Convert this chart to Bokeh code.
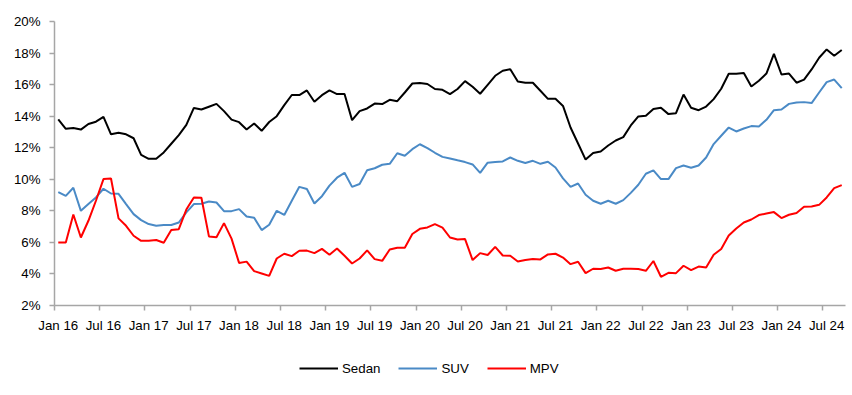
from bokeh.plotting import figure
from bokeh.layouts import column
from bokeh.models import (Range1d, FixedTicker, PrintfTickFormatter, Legend, LegendItem)
from bokeh.embed import file_html
from bokeh.resources import INLINE

# ---- data (share of sales, %) monthly Jan 16 .. Sep 24 ----
month_names = ["Jan", "Feb", "Mar", "Apr", "May", "Jun",
               "Jul", "Aug", "Sep", "Oct", "Nov", "Dec"]
months = [f"{month_names[m % 12]} {16 + m // 12}" for m in range(105)]

sedan = [13.8, 13.2, 13.25, 13.15, 13.5, 13.65, 13.95, 12.85, 12.95, 12.85,
         12.6, 11.55, 11.3, 11.3, 11.7, 12.25, 12.8, 13.45, 14.52, 14.42,
         14.6, 14.78, 14.32, 13.78, 13.62, 13.16, 13.53, 13.07, 13.63, 14.0,
         14.7, 15.34, 15.34, 15.63, 14.91, 15.33, 15.63, 15.4, 15.4, 13.75,
         14.32, 14.49, 14.8, 14.77, 15.04, 14.95, 15.5, 16.07, 16.1, 16.04,
         15.72, 15.67, 15.4, 15.72, 16.22, 15.86, 15.42, 15.99, 16.56, 16.88,
         16.98, 16.2, 16.12, 16.12, 15.61, 15.1, 15.1, 14.65, 13.28, 12.27,
         11.25, 11.66, 11.76, 12.14, 12.46, 12.67, 13.41, 13.98, 14.02, 14.45,
         14.53, 14.13, 14.19, 15.37, 14.53, 14.38, 14.61, 15.08, 15.74, 16.69,
         16.69, 16.73, 15.88, 16.24, 16.7, 17.95, 16.64, 16.7, 16.12, 16.32,
         16.96, 17.7, 18.23, 17.83, 18.19]

suv = [9.19, 8.95, 9.46, 8.0, 8.43, 8.85, 9.4, 9.1, 9.08, 8.43,
       7.79, 7.41, 7.16, 7.05, 7.1, 7.1, 7.26, 7.9, 8.43, 8.45,
       8.59, 8.53, 7.98, 7.98, 8.11, 7.64, 7.56, 6.78, 7.12, 8.0,
       7.74, 8.64, 9.52, 9.38, 8.47, 8.93, 9.6, 10.1, 10.41, 9.52,
       9.7, 10.57, 10.7, 10.92, 10.98, 11.65, 11.49, 11.91, 12.22, 11.98,
       11.68, 11.42, 11.32, 11.2, 11.09, 10.94, 10.41, 11.05, 11.09, 11.13,
       11.38, 11.17, 11.03, 11.17, 10.98, 11.11, 10.75, 10.06, 9.52, 9.73,
       9.02, 8.64, 8.45, 8.64, 8.45, 8.68, 9.14, 9.65, 10.35, 10.56,
       10.01, 10.01, 10.71, 10.87, 10.73, 10.87, 11.38, 12.23, 12.76, 13.28,
       13.03, 13.22, 13.37, 13.35, 13.77, 14.38, 14.42, 14.78, 14.87, 14.89,
       14.83, 15.5, 16.16, 16.32, 15.78]

mpv = [6.0, 6.0, 7.77, 6.31, 7.37, 8.64, 10.01, 10.05, 7.52, 7.05,
       6.42, 6.1, 6.1, 6.15, 5.98, 6.78, 6.84, 8.08, 8.85, 8.83,
       6.38, 6.33, 7.22, 6.24, 4.7, 4.78, 4.18, 4.03, 3.88, 4.98,
       5.28, 5.13, 5.47, 5.48, 5.32, 5.59, 5.22, 5.61, 5.15, 4.66,
       4.98, 5.49, 4.94, 4.83, 5.55, 5.66, 5.66, 6.53, 6.86, 6.95,
       7.16, 6.94, 6.31, 6.18, 6.21, 4.88, 5.32, 5.2, 5.72, 5.17,
       5.15, 4.79, 4.88, 4.94, 4.92, 5.24, 5.28, 5.04, 4.62, 4.77,
       4.05, 4.33, 4.31, 4.41, 4.2, 4.33, 4.33, 4.31, 4.2, 4.82,
       3.82, 4.07, 4.05, 4.52, 4.24, 4.47, 4.41, 5.22, 5.58, 6.44,
       6.88, 7.26, 7.45, 7.73, 7.83, 7.92, 7.54, 7.75, 7.86, 8.26,
       8.28, 8.38, 8.85, 9.44, 9.63]

series_names = ["Sedan", "SUV", "MPV"]
y_ticks = [2, 4, 6, 8, 10, 12, 14, 16, 18, 20]
label_every = 6
tick_labels = {i: months[i] for i in range(0, len(months), label_every)}

FONT = "Liberation Sans"
FS = "13.3px"
AXIS_GRAY = "#a6a6a6"
COLORS = ["#000000", "#4a8ac6", "#ff0000"]

x = list(range(len(months)))
all_series = [sedan, suv, mpv]

p = figure(frame_width=791, frame_height=284, output_backend="svg",
           toolbar_location=None,
           x_range=Range1d(-0.5, len(months) - 0.5), y_range=Range1d(2, 20),
           min_border_left=54, min_border_right=5, min_border_top=21,
           min_border_bottom=35)
p.outline_line_color = None
p.xgrid.grid_line_color = None
p.ygrid.grid_line_color = None
p.background_fill_color = "white"
p.border_fill_color = "white"

for vals, col in zip(all_series, COLORS):
    p.line(x, vals, line_color=col, line_width=2)

# y axis
ya = p.yaxis[0]
ya.ticker = FixedTicker(ticks=y_ticks, minor_ticks=[])
ya.formatter = PrintfTickFormatter(format="%d%%")
ya.axis_line_color = AXIS_GRAY
ya.axis_line_width = 1.5
ya.major_tick_line_color = AXIS_GRAY
ya.major_tick_line_width = 1.5
ya.major_tick_out = 5
ya.major_tick_in = 0
ya.major_label_standoff = 9
ya.major_label_text_font = FONT
ya.major_label_text_font_size = FS
ya.major_label_text_color = "#000000"

# x axis: labels centred on months, tick marks at month boundaries
xa = p.xaxis[0]
xa.ticker = FixedTicker(ticks=list(tick_labels.keys()),
                        minor_ticks=[k - 0.5 for k in tick_labels.keys()])
xa.major_label_overrides = tick_labels
xa.axis_line_color = AXIS_GRAY
xa.axis_line_width = 1.5
xa.major_tick_line_color = None
xa.major_tick_out = 5
xa.major_tick_in = 0
xa.minor_tick_line_color = AXIS_GRAY
xa.minor_tick_line_width = 1.5
xa.minor_tick_out = 5
xa.minor_tick_in = 0
xa.major_label_standoff = 7
xa.major_label_text_font = FONT
xa.major_label_text_font_size = FS
xa.major_label_text_color = "#000000"

# legend strip below the chart (same series, drawn outside its visible range)
lg = figure(width=850, height=50, output_backend="svg", toolbar_location=None,
            x_range=Range1d(-0.5, len(months) - 0.5), y_range=Range1d(100, 101),
            x_axis_type=None, y_axis_type=None,
            min_border_left=0, min_border_right=0, min_border_top=0,
            min_border_bottom=0)
lg.outline_line_color = None
lg.xgrid.grid_line_color = None
lg.ygrid.grid_line_color = None
lg.border_fill_color = "white"
lg.background_fill_color = "white"

items = []
for name, vals, col in zip(series_names, all_series, COLORS):
    r = lg.line(x, vals, line_color=col, line_width=2)
    items.append(LegendItem(label=name, renderers=[r]))

legend = Legend(items=items, orientation="horizontal", location=(245, 14),
                glyph_width=39, glyph_height=16, label_standoff=4, spacing=18,
                padding=0, margin=0, border_line_color=None,
                background_fill_alpha=0, label_text_font=FONT,
                label_text_font_size=FS, label_text_color="#000000")
lg.add_layout(legend, "center")

layout = column(p, lg, spacing=0)
open("out.html", "w").write(file_html(layout, INLINE))
